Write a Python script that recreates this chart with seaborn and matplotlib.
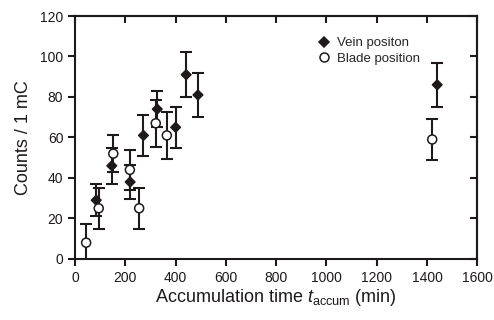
import matplotlib
matplotlib.use("Agg")
import matplotlib.pyplot as plt
import seaborn as sns
import pandas as pd

sns.set_theme(style="ticks")
plt.rcParams['font.family'] = ['Liberation Sans', 'DejaVu Sans']
plt.rcParams['mathtext.fontset'] = 'custom'
plt.rcParams['mathtext.rm'] = 'Liberation Sans'
plt.rcParams['mathtext.it'] = 'Liberation Sans:italic'

# Vein position
vein_t = [84, 146, 219, 272, 327, 400, 442, 489, 1441]
vein_counts = [29, 46, 38, 61, 74, 65, 91, 81, 86]
vein_err = [8, 9, 8.5, 10, 9, 10, 11, 11, 11]

# Blade position
blade_t = [44, 94, 152, 218, 255, 321, 365, 1421]
blade_counts = [8, 25, 52, 44, 25, 67, 61, 59]
blade_err = [9, 10, 9, 10, 10, 11.5, 11.5, 10]

xticks = [0, 200, 400, 600, 800, 1000, 1200, 1400, 1600]
yticks = [0, 20, 40, 60, 80, 100, 120]

df = pd.concat([
    pd.DataFrame({"t": vein_t, "c": vein_counts, "e": vein_err, "s": "Vein positon"}),
    pd.DataFrame({"t": blade_t, "c": blade_counts, "e": blade_err, "s": "Blade position"}),
], ignore_index=True)

ink = "#1e1a1a"
fig = plt.figure(figsize=(4.94, 3.2), dpi=100)
ax = fig.add_axes([0.152, 0.191, 0.814, 0.759])

for name, g in df.groupby("s", sort=False):
    ax.errorbar(g["t"], g["c"], yerr=g["e"], fmt="none", ecolor=ink,
                elinewidth=1.5, capsize=4.2, capthick=1.5, zorder=2)

sns.scatterplot(data=df, x="t", y="c", hue="s", style="s", size="s",
                markers={"Vein positon": "D", "Blade position": "o"},
                palette={"Vein positon": ink, "Blade position": "white"},
                sizes={"Vein positon": 24, "Blade position": 42},
                edgecolor=ink, linewidth=1.1, ax=ax, zorder=3,
                legend=True)

ax.set_xlim(0, 1600)
ax.set_ylim(0, 120)
ax.set_xticks(xticks)
ax.set_yticks(yticks)
ax.tick_params(axis="both", labelsize=10, width=1.5, length=5, color=ink, labelcolor=ink,
               direction="out", top=False, right=False)
for sp in ax.spines.values():
    sp.set_linewidth(1.5)
    sp.set_color(ink)
    sp.set_visible(True)

sec_x = ax.secondary_xaxis("top")
sec_x.set_xticks(xticks)
sec_x.tick_params(direction="in", length=5, width=1.5, labeltop=False, color=ink)
sec_x.spines["top"].set_linewidth(1.5)
sec_x.spines["top"].set_color(ink)
sec_y = ax.secondary_yaxis("right")
sec_y.set_yticks(yticks)
sec_y.tick_params(direction="in", length=5, width=1.5, labelright=False, color=ink)
sec_y.spines["right"].set_linewidth(1.5)
sec_y.spines["right"].set_color(ink)

ax.set_xlabel(r"Accumulation time $t_{\mathregular{accum}}$ (min)", fontsize=13, color=ink, labelpad=2)
ax.set_ylabel("Counts / 1 mC", fontsize=13, color=ink, labelpad=6)

leg = ax.legend(title=None, loc="upper left", bbox_to_anchor=(0.585, 0.935), frameon=False,
                fontsize=9.5, handletextpad=0.4, labelspacing=0.25, handlelength=1.2,
                borderaxespad=0)
for h in leg.legend_handles:
    try:
        h.set_markeredgecolor(ink)
    except AttributeError:
        h.set_edgecolor(ink)

fig.savefig("out.png", dpi=100)
